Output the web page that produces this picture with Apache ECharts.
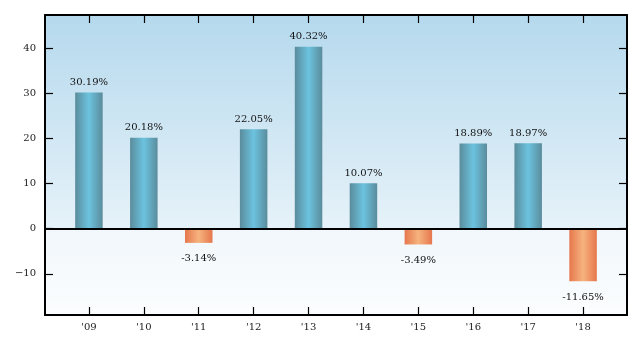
<!DOCTYPE html>
<html><head><meta charset="utf-8">
<script src="https://cdn.jsdelivr.net/npm/echarts@6/dist/echarts.min.js"></script>
<style>html,body{margin:0;padding:0;background:#fff}#c{width:641px;height:347px}</style>
</head><body><div id="c"></div>
<script>
const categories = ["'09","'10","'11","'12","'13","'14","'15","'16","'17","'18"];
const returns = [30.19, 20.18, -3.14, 22.05, 40.32, 10.07, -3.49, 18.89, 18.97, -11.65];
const yTicks = [-10, 0, 10, 20, 30, 40];

const FONT = 'DejaVu Serif';
const yMin = -19.13, yMax = 47.38;
const zeroFrac = yMax / (yMax - yMin);
const G = echarts.graphic.LinearGradient;
const blue = new G(0,0,1,0,[{offset:0,color:'#5a8c9c'},{offset:0.5,color:'#6cc3df'},{offset:1,color:'#5a8c9c'}]);
const orange = new G(0,0,1,0,[{offset:0,color:'#e6774d'},{offset:0.5,color:'#f6b37e'},{offset:1,color:'#e6774d'}]);
const xIdx = categories.map((_, i) => i);

const data = returns.map((v, i) => ({
  value: [i, v],
  itemStyle: { color: v >= 0 ? blue : orange },
  label: { position: v >= 0 ? 'top' : 'bottom', distance: v >= 0 ? 5 : 11 }
}));

const chart = echarts.init(document.getElementById('c'));
const axisLine = { show: true, onZero: false, lineStyle: { color: '#000', width: 2 } };
const tick = { show: true, inside: true, length: 8, lineStyle: { color: '#000', width: 1.2 } };
chart.setOption({
  animation: false,
  grid: {
    left: 45, right: 14, top: 15, bottom: 32, show: true, borderWidth: 0,
    backgroundColor: new G(0,0,0,1,[
      {offset:0,color:'#b5d9ed'},{offset:zeroFrac,color:'#e6f2f9'},
      {offset:zeroFrac,color:'#f1f7fb'},{offset:1,color:'#fbfdfe'}])
  },
  xAxis: [{
    type: 'value', position: 'bottom', min: -0.8, max: 9.8,
    axisLine, splitLine: { show: false },
    axisTick: Object.assign({}, tick, { customValues: xIdx }),
    axisLabel: { customValues: xIdx, formatter: v => categories[Math.round(v)], fontFamily: FONT, fontSize: 10, color: '#222', margin: 7 }
  }, {
    type: 'value', position: 'top', min: -0.8, max: 9.8,
    axisLine, splitLine: { show: false },
    axisTick: Object.assign({}, tick, { customValues: xIdx }),
    axisLabel: { show: false }
  }],
  yAxis: [{
    type: 'value', position: 'left', min: yMin, max: yMax,
    axisLine, splitLine: { show: false },
    axisTick: Object.assign({}, tick, { customValues: yTicks }),
    axisLabel: { customValues: yTicks, formatter: v => v < 0 ? '\u2212' + Math.abs(v) : String(v), fontFamily: FONT, fontSize: 10, color: '#222', margin: 9 }
  }, {
    type: 'value', position: 'right', min: yMin, max: yMax,
    axisLine, splitLine: { show: false },
    axisTick: Object.assign({}, tick, { customValues: yTicks }),
    axisLabel: { show: false }
  }],
  series: [{
    type: 'bar', barWidth: 27.5, data,
    label: { show: true, fontFamily: FONT, fontSize: 10, color: '#111', formatter: p => p.value[1].toFixed(2) + '%' },
    markLine: {
      silent: true, symbol: 'none', label: { show: false },
      lineStyle: { color: '#000', width: 2, type: 'solid' },
      data: [{ yAxis: 0 }]
    }
  }]
});
</script></body></html>
